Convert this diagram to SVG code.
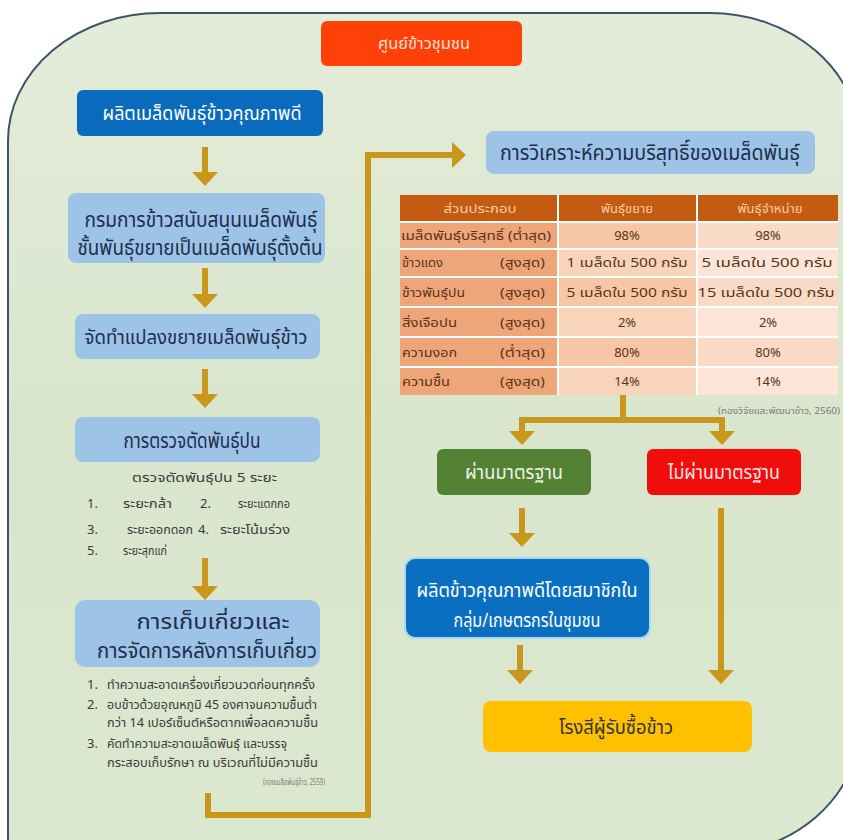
<svg xmlns="http://www.w3.org/2000/svg" width="843" height="840" viewBox="0 0 843 840">
<style>
text{font-family:"Noto Sans Thai","Noto Sans","DejaVu Sans",sans-serif}
.lb{fill:#9dc3e6}
.lbt{fill:#1f2d4d;text-anchor:middle}
.sub{fill:#3a3a3a;font-size:13px}
.cite{fill:#7a7a7a;font-size:9px;text-anchor:end}
.ln{fill:none;stroke:#c8971c;stroke-width:6}
.arr{marker-end:url(#ah)}
.th{fill:#f8cfa8;font-size:13px;text-anchor:middle}
.td{fill:#5a3418;font-size:13px}
.c{text-anchor:middle}
</style>
<defs>
<linearGradient id="bg" x1="0" y1="0" x2="0" y2="1">
<stop offset="0" stop-color="#e3ecd9"/>
<stop offset="0.5" stop-color="#d9e5cd"/>
<stop offset="1" stop-color="#dce7d0"/>
</linearGradient>
<marker id="ah" markerUnits="userSpaceOnUse" viewBox="0 -13 14 26" refX="0" refY="0" markerWidth="14" markerHeight="26" orient="auto">
<path d="M0,-13 L14,0 L0,13 Z" fill="#c8971c"/>
</marker>
</defs>
<rect width="843" height="840" fill="#ffffff"/>
<path d="M8,141 A152,128 0 0 1 160,13 L710,13 A150,130 0 0 1 860,143 L860,725 A150,130 0 0 1 710,855 L8,855 Z" fill="url(#bg)" stroke="#3c5468" stroke-width="2"/>

<g id="connectors">
<path class="ln arr" d="M205,147 V172"/>
<path class="ln arr" d="M205,268 V294"/>
<path class="ln arr" d="M205,369 V394"/>
<path class="ln arr" d="M205,558 V586"/>
<path class="ln arr" d="M208,793 V815 H368 V155 H452"/>
<path class="ln" d="M623,395 V420"/>
<path class="ln" d="M522,431 V420 H722 V431"/>
<path class="ln arr" d="M522,418 V431"/>
<path class="ln arr" d="M722,418 V431"/>
<path class="ln arr" d="M522,508 V533"/>
<path class="ln arr" d="M721,508 V670"/>
<path class="ln arr" d="M520,645 V670"/>
</g>

<g id="n-title">
<rect x="321" y="21" width="201" height="45" rx="6" fill="#ff4108"/>
<text x="424" y="49" fill="#fde0d8" font-size="15" text-anchor="middle" textLength="92" lengthAdjust="spacingAndGlyphs">ศูนย์ข้าวชุมชน</text>
</g>

<g id="n-produce-seed">
<rect x="77" y="90" width="246" height="46" rx="6" fill="#0a6bbd"/>
<text x="202" y="120" fill="#ffffff" font-size="19" text-anchor="middle" textLength="199" lengthAdjust="spacingAndGlyphs">ผลิตเมล็ดพันธุ์ข้าวคุณภาพดี</text>
</g>

<g id="n-rice-dept">
<rect class="lb" x="68" y="193" width="257" height="70" rx="8"/>
<text class="lbt" x="201" y="227" font-size="21" textLength="233" lengthAdjust="spacingAndGlyphs">กรมการข้าวสนับสนุนเมล็ดพันธุ์</text>
<text class="lbt" x="200" y="255" font-size="21" textLength="245" lengthAdjust="spacingAndGlyphs">ชั้นพันธุ์ขยายเป็นเมล็ดพันธุ์ตั้งต้น</text>
</g>

<g id="n-plot">
<rect class="lb" x="75" y="314" width="245" height="45" rx="8"/>
<text class="lbt" x="196" y="344" font-size="20" textLength="223" lengthAdjust="spacingAndGlyphs">จัดทำแปลงขยายเมล็ดพันธุ์ข้าว</text>
</g>

<g id="n-rogue">
<rect class="lb" x="75" y="417" width="245" height="45" rx="8"/>
<text class="lbt" x="192" y="448" font-size="22" textLength="137" lengthAdjust="spacingAndGlyphs">การตรวจตัดพันธุ์ปน</text>
<text class="sub" x="132" y="482" textLength="145" lengthAdjust="spacingAndGlyphs">ตรวจตัดพันธุ์ปน 5 ระยะ</text>
<text class="sub" x="87" y="508">1.</text>
<text class="sub" x="123" y="508" textLength="49" lengthAdjust="spacingAndGlyphs">ระยะกล้า</text>
<text class="sub" x="200" y="508">2.</text>
<text class="sub" x="238" y="508" textLength="52" lengthAdjust="spacingAndGlyphs">ระยะแตกกอ</text>
<text class="sub" x="87" y="534">3.</text>
<text class="sub" x="127" y="534" textLength="66" lengthAdjust="spacingAndGlyphs">ระยะออกดอก</text>
<text class="sub" x="198" y="534">4.</text>
<text class="sub" x="220" y="534" textLength="70" lengthAdjust="spacingAndGlyphs">ระยะโน้มร่วง</text>
<text class="sub" x="87" y="555">5.</text>
<text class="sub" x="123" y="555" textLength="44" lengthAdjust="spacingAndGlyphs">ระยะสุกแก่</text>
</g>

<g id="n-harvest">
<rect class="lb" x="75" y="600" width="245" height="67" rx="10"/>
<text class="lbt" x="213" y="629" font-size="21" textLength="153" lengthAdjust="spacingAndGlyphs">การเก็บเกี่ยวและ</text>
<text class="lbt" x="207" y="658" font-size="21" textLength="220" lengthAdjust="spacingAndGlyphs">การจัดการหลังการเก็บเกี่ยว</text>
<text class="sub" x="87" y="689">1.</text>
<text class="sub" x="107" y="689" textLength="208" lengthAdjust="spacingAndGlyphs">ทำความสะอาดเครื่องเกี่ยวนวดก่อนทุกครั้ง</text>
<text class="sub" x="87" y="709">2.</text>
<text class="sub" x="107" y="709" textLength="210" lengthAdjust="spacingAndGlyphs">อบข้าวด้วยอุณหภูมิ 45 องศาจนความชื้นต่ำ</text>
<text class="sub" x="107" y="727" textLength="211" lengthAdjust="spacingAndGlyphs">กว่า 14 เปอร์เซ็นต์หรือตากเพื่อลดความชื้น</text>
<text class="sub" x="87" y="748">3.</text>
<text class="sub" x="107" y="748" textLength="180" lengthAdjust="spacingAndGlyphs">คัดทำความสะอาดเมล็ดพันธุ์ และบรรจุ</text>
<text class="sub" x="107" y="767" textLength="211" lengthAdjust="spacingAndGlyphs">กระสอบเก็บรักษา ณ บริเวณที่ไม่มีความชื้น</text>
<text class="cite" x="325" y="785" font-size="9" textLength="62" lengthAdjust="spacingAndGlyphs">(กองเมล็ดพันธุ์ข้าว, 2559)</text>
</g>

<g id="n-analysis">
<rect class="lb" x="486" y="131" width="329" height="43" rx="8"/>
<text class="lbt" x="650" y="160" font-size="22" textLength="300" lengthAdjust="spacingAndGlyphs">การวิเคราะห์ความบริสุทธิ์ของเมล็ดพันธุ์</text>
</g>

<g id="n-table">
<rect x="400" y="195" width="438" height="200" fill="#ffffff"/>
<rect x="400" y="195" width="157" height="26" fill="#c55a11"/>
<rect x="559" y="195" width="137" height="26" fill="#c55a11"/>
<rect x="698" y="195" width="140" height="26" fill="#c55a11"/>
<text class="th" x="480" y="213" textLength="73" lengthAdjust="spacingAndGlyphs">ส่วนประกอบ</text>
<text class="th" x="627" y="213">พันธุ์ขยาย</text>
<text class="th" x="770" y="213">พันธุ์จำหน่าย</text>

<g fill="#eea578">
<rect x="400" y="223" width="157" height="25"/>
<rect x="400" y="250" width="157" height="26"/>
<rect x="400" y="278" width="157" height="28"/>
<rect x="400" y="308" width="157" height="28"/>
<rect x="400" y="338" width="157" height="28"/>
<rect x="400" y="368" width="157" height="27"/>
</g>
<g fill="#f6c6a6">
<rect x="559" y="223" width="137" height="25"/>
<rect x="559" y="278" width="137" height="28"/>
<rect x="559" y="338" width="137" height="28"/>
</g>
<g fill="#f8d4bb">
<rect x="559" y="250" width="137" height="26"/>
<rect x="559" y="308" width="137" height="28"/>
<rect x="559" y="368" width="137" height="27"/>
</g>
<g fill="#f9dac6">
<rect x="698" y="223" width="140" height="25"/>
<rect x="698" y="278" width="140" height="28"/>
<rect x="698" y="338" width="140" height="28"/>
</g>
<g fill="#fbe5d7">
<rect x="698" y="250" width="140" height="26"/>
<rect x="698" y="308" width="140" height="28"/>
<rect x="698" y="368" width="140" height="27"/>
</g>

<text class="td" x="401" y="240" textLength="150" lengthAdjust="spacingAndGlyphs">เมล็ดพันธุ์บริสุทธิ์ (ต่ำสุด)</text>
<text class="td c" x="627" y="240">98%</text>
<text class="td c" x="768" y="240">98%</text>

<text class="td" x="402" y="267">ข้าวแดง</text>
<text class="td" x="500" y="267" textLength="45" lengthAdjust="spacingAndGlyphs">(สูงสุด)</text>
<text class="td c" x="627" y="267" textLength="121" lengthAdjust="spacingAndGlyphs">1 เมล็ดใน 500 กรัม</text>
<text class="td c" x="767" y="267" textLength="131" lengthAdjust="spacingAndGlyphs">5 เมล็ดใน 500 กรัม</text>

<text class="td" x="402" y="297" textLength="63" lengthAdjust="spacingAndGlyphs">ข้าวพันธุ์ปน</text>
<text class="td" x="500" y="297" textLength="45" lengthAdjust="spacingAndGlyphs">(สูงสุด)</text>
<text class="td c" x="627" y="297" textLength="121" lengthAdjust="spacingAndGlyphs">5 เมล็ดใน 500 กรัม</text>
<text class="td c" x="766" y="297" textLength="137" lengthAdjust="spacingAndGlyphs">15 เมล็ดใน 500 กรัม</text>

<text class="td" x="402" y="327" textLength="55" lengthAdjust="spacingAndGlyphs">สิ่งเจือปน</text>
<text class="td" x="500" y="327" textLength="45" lengthAdjust="spacingAndGlyphs">(สูงสุด)</text>
<text class="td c" x="627" y="327">2%</text>
<text class="td c" x="768" y="327">2%</text>

<text class="td" x="402" y="357" textLength="55" lengthAdjust="spacingAndGlyphs">ความงอก</text>
<text class="td" x="500" y="357" textLength="45" lengthAdjust="spacingAndGlyphs">(ต่ำสุด)</text>
<text class="td c" x="627" y="357">80%</text>
<text class="td c" x="768" y="357">80%</text>

<text class="td" x="402" y="386" textLength="48" lengthAdjust="spacingAndGlyphs">ความชื้น</text>
<text class="td" x="500" y="386" textLength="45" lengthAdjust="spacingAndGlyphs">(สูงสุด)</text>
<text class="td c" x="627" y="386">14%</text>
<text class="td c" x="768" y="386">14%</text>

<text class="cite" x="840" y="414" font-size="10" textLength="122" lengthAdjust="spacingAndGlyphs">(กองวิจัยและพัฒนาข้าว, 2560)</text>
</g>

<g id="n-pass">
<rect x="437" y="449" width="154" height="46" rx="6" fill="#548235"/>
<text x="514" y="479" fill="#eef3e4" font-size="19" text-anchor="middle" textLength="98" lengthAdjust="spacingAndGlyphs">ผ่านมาตรฐาน</text>
</g>

<g id="n-fail">
<rect x="647" y="449" width="154" height="46" rx="6" fill="#f20d0d"/>
<text x="724" y="479" fill="#fde6e6" font-size="19" text-anchor="middle" textLength="112" lengthAdjust="spacingAndGlyphs">ไม่ผ่านมาตรฐาน</text>
</g>

<g id="n-members">
<rect x="405" y="558" width="245" height="80" rx="10" fill="#0b6fc1" stroke="#a9daf2" stroke-width="2"/>
<text x="527" y="597" fill="#ffffff" font-size="20" text-anchor="middle" textLength="221" lengthAdjust="spacingAndGlyphs">ผลิตข้าวคุณภาพดีโดยสมาชิกใน</text>
<text x="527" y="627" fill="#ffffff" font-size="20" text-anchor="middle" textLength="147" lengthAdjust="spacingAndGlyphs">กลุ่ม/เกษตรกรในชุมชน</text>
</g>

<g id="n-mill">
<rect x="483" y="701" width="269" height="51" rx="8" fill="#ffc000"/>
<text x="616" y="734" fill="#333333" font-size="20" text-anchor="middle" textLength="114" lengthAdjust="spacingAndGlyphs">โรงสีผู้รับซื้อข้าว</text>
</g>
</svg>
